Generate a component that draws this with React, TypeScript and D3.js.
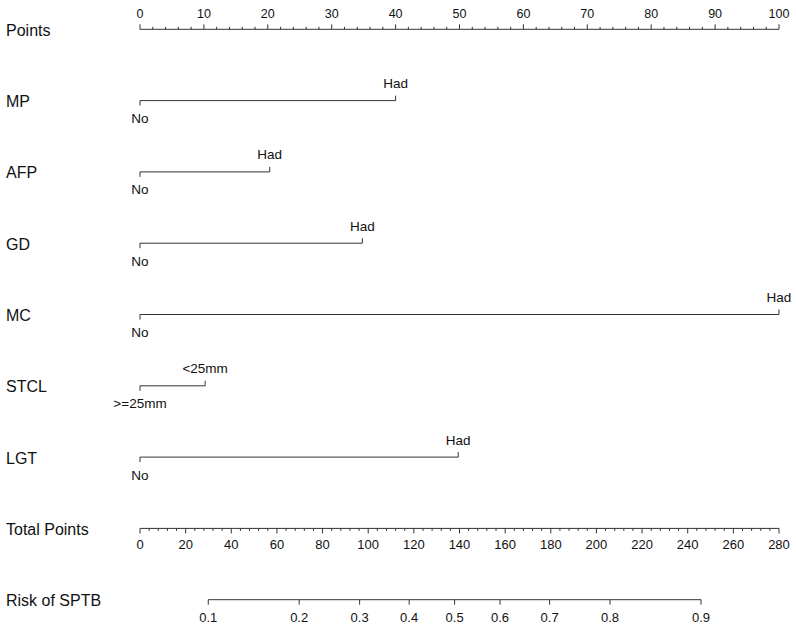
import React from "react";
import * as d3 from "d3";

// nomogram rows
const variables = ["MP", "AFP", "GD", "MC", "STCL", "LGT"];
const lowLabels = ["No", "No", "No", "No", ">=25mm", "No"];
const highLabels = ["Had", "Had", "Had", "Had", "<25mm", "Had"];
const highPoints = [40, 20.3, 34.8, 100, 10.2, 49.8];

const pointTicks = d3.range(0, 101, 10);
const pointMinor = d3.range(0, 101, 2);
const totalTicks = d3.range(0, 281, 20);
const totalMinor = d3.range(0, 281, 4);
const riskTicks = [0.1, 0.2, 0.3, 0.4, 0.5, 0.6, 0.7, 0.8, 0.9];

// logistic model: logit(p) = intercept + slope * totalPoints
const intercept = -2.806;
const slope = 0.020354;

const W = 796;
const H = 628;
const FONT = "'Liberation Sans', Arial, Helvetica, sans-serif";
const INK = "#333";

export default function App() {
  const ptScale = d3.scaleLinear().domain([0, 100]).range([140, 779]);
  const totScale = d3.scaleLinear().domain([0, 280]).range([140, 779]);
  const rowY = (i: number) => 29.3 + i * 71.3;

  const riskX = (p: number) => totScale((Math.log(p / (1 - p)) - intercept) / slope);

  const yPts = rowY(0);
  const yTot = rowY(7);
  const yRisk = rowY(8);

  const rowLabel = (txt: string, y: number) => (
    <text x={6} y={y + 6.5} fontSize={16} fill="#111" fontFamily={FONT}>
      {txt}
    </text>
  );

  return (
    <svg width={W} height={H} style={{ position: "absolute", left: 0, top: 0, background: "#fff" }}>
      {/* Points */}
      {rowLabel("Points", yPts)}
      <line x1={ptScale(0)} x2={ptScale(100)} y1={yPts} y2={yPts} stroke={INK} />
      {pointMinor.map((v) => (
        <line key={"pm" + v} x1={ptScale(v)} x2={ptScale(v)} y1={yPts} y2={yPts - (v % 10 === 0 ? 5 : 2.5)} stroke={INK} />
      ))}
      {pointTicks.map((v) => (
        <text key={"pt" + v} x={ptScale(v)} y={yPts - 11} fontSize={12.5} textAnchor="middle" fill="#111" fontFamily={FONT}>
          {v}
        </text>
      ))}

      {/* variables */}
      {variables.map((name, i) => {
        const y = rowY(i + 1);
        const x0 = ptScale(0);
        const x1 = ptScale(highPoints[i]);
        return (
          <g key={name}>
            {rowLabel(name, y)}
            <line x1={x0} x2={x1} y1={y} y2={y} stroke={INK} />
            <line x1={x0} x2={x0} y1={y} y2={y + 5} stroke={INK} />
            <line x1={x1} x2={x1} y1={y} y2={y - 5} stroke={INK} />
            <text x={x0} y={y + 22.5} fontSize={13.5} textAnchor="middle" fill="#111" fontFamily={FONT}>
              {lowLabels[i]}
            </text>
            <text x={x1} y={y - 12.5} fontSize={13.5} textAnchor="middle" fill="#111" fontFamily={FONT}>
              {highLabels[i]}
            </text>
          </g>
        );
      })}

      {/* Total Points */}
      {rowLabel("Total Points", yTot)}
      <line x1={totScale(0)} x2={totScale(280)} y1={yTot} y2={yTot} stroke={INK} />
      {totalMinor.map((v) => (
        <line key={"tm" + v} x1={totScale(v)} x2={totScale(v)} y1={yTot} y2={yTot + (v % 20 === 0 ? 5 : 2.5)} stroke={INK} />
      ))}
      {totalTicks.map((v) => (
        <text key={"tt" + v} x={totScale(v)} y={yTot + 21} fontSize={13} textAnchor="middle" fill="#111" fontFamily={FONT}>
          {v}
        </text>
      ))}

      {/* Risk */}
      {rowLabel("Risk of SPTB", yRisk)}
      <line x1={riskX(0.1)} x2={riskX(0.9)} y1={yRisk} y2={yRisk} stroke={INK} />
      {riskTicks.map((p) => (
        <g key={"r" + p}>
          <line x1={riskX(p)} x2={riskX(p)} y1={yRisk} y2={yRisk + 5} stroke={INK} />
          <text x={riskX(p)} y={yRisk + 22} fontSize={13} textAnchor="middle" fill="#111" fontFamily={FONT}>
            {p}
          </text>
        </g>
      ))}
    </svg>
  );
}
